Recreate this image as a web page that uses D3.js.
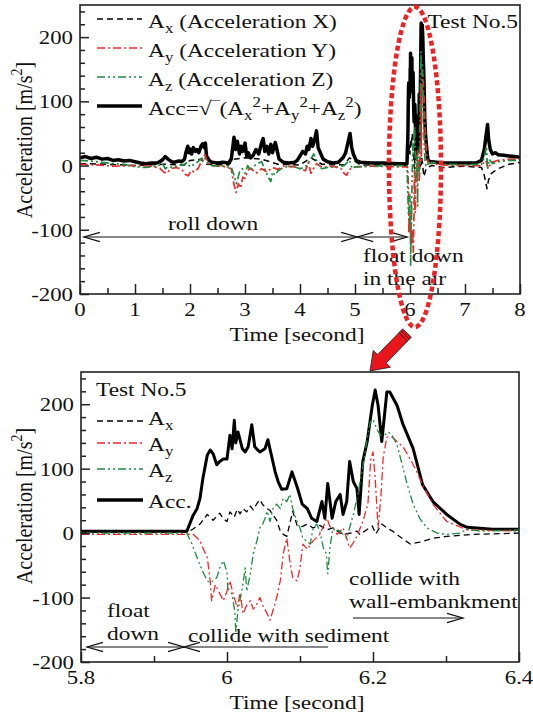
<!DOCTYPE html>
<meta charset="utf-8">
<head>
  <title>Acceleration Test No.5</title>
  <script src="https://d3js.org/d3.v7.min.js"></script>
  <style>
    body { margin: 0; background: #fff; }
    svg { font-family: 'Liberation Serif', 'Times New Roman', serif; fill: #111; }
  </style>
</head>
<body>
<div id="display"></div>
<script>

// ---- data : [time (s), acceleration (m/s2)] ----
// roll down part (0 - 5.8 s)
var accRoll = [[0,12],[0.1,14],[0.2,11],[0.3,13],[0.4,10],[0.5,11],[0.6,8],[0.7,9],[0.8,7],[0.9,8],[1.0,6],[1.1,4],[1.2,3],[1.3,4],[1.4,4],[1.45,6],[1.5,9],[1.55,14],[1.6,10],[1.65,7],[1.7,5],[1.8,7],[1.85,6],[1.9,10],[1.93,22],[1.96,30],[1.98,20],[2.0,26],[2.03,18],[2.06,28],[2.1,22],[2.13,25],[2.16,20],[2.2,30],[2.23,34],[2.26,28],[2.28,35],[2.3,15],[2.35,8],[2.4,5],[2.5,4],[2.6,5],[2.7,4],[2.75,10],[2.78,30],[2.8,44],[2.83,25],[2.86,38],[2.9,18],[2.93,30],[2.96,22],[3.0,35],[3.03,15],[3.06,20],[3.1,12],[3.15,16],[3.2,25],[3.25,18],[3.3,35],[3.33,42],[3.36,22],[3.4,30],[3.43,18],[3.47,33],[3.5,20],[3.55,36],[3.58,25],[3.62,10],[3.7,5],[3.8,4],[3.9,5],[3.95,8],[4.0,15],[4.05,22],[4.1,18],[4.13,30],[4.16,25],[4.2,42],[4.23,30],[4.26,38],[4.3,54],[4.33,28],[4.37,20],[4.42,10],[4.5,6],[4.6,4],[4.7,5],[4.78,12],[4.83,20],[4.87,35],[4.91,50],[4.94,28],[4.97,18],[5.02,8],[5.1,5],[5.3,4],[5.5,4],[5.8,3]];
var axRoll = [[0,3],[0.5,2],[1.0,0],[1.5,2],[1.9,1],[2.0,8],[2.2,10],[2.3,2],[2.7,1],[2.8,10],[3.0,12],[3.3,10],[3.6,2],[4.0,1],[4.2,12],[4.4,2],[4.8,1],[4.9,12],[5.1,1],[5.8,1]];
var ayRoll = [[0,2],[0.3,1],[0.6,-1],[1.0,0],[1.3,-1],[1.45,-4],[1.52,-10],[1.58,-12],[1.65,-5],[1.75,-3],[1.85,-6],[1.92,-14],[1.97,-16],[2.02,-8],[2.08,-10],[2.15,-4],[2.22,8],[2.27,17],[2.32,4],[2.4,0],[2.6,-1],[2.75,-5],[2.8,-30],[2.84,-42],[2.88,-28],[2.92,-35],[2.96,-18],[3.0,-20],[3.05,-8],[3.1,-4],[3.2,-12],[3.3,-5],[3.4,-10],[3.5,-3],[3.6,-6],[3.7,-1],[3.9,-2],[4.0,-5],[4.1,-8],[4.15,5],[4.2,-12],[4.25,-4],[4.3,3],[4.4,-3],[4.6,-1],[4.75,-5],[4.8,-12],[4.85,-15],[4.9,-6],[5.0,-2],[5.3,-1],[5.8,-2]];
var azRoll = [[0,8],[0.2,7],[0.4,5],[0.6,3],[0.8,2],[1.0,-2],[1.2,-3],[1.4,-1],[1.5,3],[1.55,-5],[1.6,-2],[1.7,-3],[1.8,0],[1.9,2],[1.95,5],[2.0,-2],[2.1,3],[2.2,10],[2.25,14],[2.3,6],[2.4,0],[2.6,-1],[2.75,-3],[2.8,-15],[2.84,-28],[2.87,-20],[2.9,-10],[2.95,-5],[3.0,-12],[3.05,0],[3.1,-8],[3.2,2],[3.3,6],[3.35,-3],[3.42,-18],[3.47,-25],[3.5,-10],[3.55,-15],[3.6,-8],[3.7,-3],[3.8,-1],[3.9,-2],[4.0,-5],[4.1,-2],[4.2,10],[4.25,18],[4.3,8],[4.35,-2],[4.4,-5],[4.5,-3],[4.7,-2],[4.8,0],[4.9,8],[4.95,-5],[5.0,-2],[5.3,-1],[5.8,0]];

// float down / collision part (5.8 - 6.4 s), shown in the lower chart
var accZoom = [[5.80,3],[5.945,3],[5.953,26],[5.959,38],[5.963,54],[5.967,85],[5.973,121],[5.977,129],[5.981,123],[5.986,106],[5.990,111],[5.995,115],[6.000,115],[6.004,152],[6.007,131],[6.010,175],[6.012,140],[6.015,157],[6.021,131],[6.025,126],[6.029,134],[6.034,168],[6.038,134],[6.042,129],[6.045,126],[6.052,131],[6.056,145],[6.061,120],[6.066,95],[6.070,80],[6.075,68],[6.082,69],[6.089,95],[6.096,72],[6.103,45],[6.110,38],[6.116,23],[6.123,18],[6.130,49],[6.134,23],[6.138,77],[6.144,23],[6.149,49],[6.155,60],[6.159,29],[6.164,49],[6.168,111],[6.173,80],[6.178,69],[6.181,29],[6.186,111],[6.192,142],[6.199,198],[6.203,222],[6.207,198],[6.212,142],[6.219,219],[6.223,219],[6.233,198],[6.241,169],[6.255,131],[6.268,75],[6.282,49],[6.301,29],[6.319,14],[6.329,9],[6.364,6],[6.4,6]];
var axZoom = [[5.80,1],[5.945,1],[5.953,6],[5.963,14],[5.973,29],[5.981,20],[5.990,31],[5.995,22],[6.000,18],[6.004,33],[6.010,25],[6.014,37],[6.018,30],[6.022,38],[6.027,33],[6.032,42],[6.036,36],[6.041,46],[6.045,52],[6.049,44],[6.055,38],[6.059,35],[6.068,20],[6.073,3],[6.077,-2],[6.082,-5],[6.090,34],[6.096,12],[6.103,10],[6.110,14],[6.118,8],[6.127,12],[6.137,5],[6.145,8],[6.155,0],[6.164,-1],[6.173,1],[6.178,3],[6.182,-2],[6.199,11],[6.204,-1],[6.212,14],[6.219,8],[6.227,3],[6.236,-5],[6.251,-17],[6.264,-14],[6.282,-8],[6.301,-5],[6.337,-2],[6.4,0]];
var ayZoom = [[5.80,-2],[5.945,-2],[5.953,-1],[5.963,-12],[5.967,-23],[5.973,-38],[5.977,-74],[5.979,-105],[5.984,-80],[5.988,-89],[5.995,-105],[6.000,-90],[6.004,-74],[6.008,-93],[6.014,-115],[6.018,-93],[6.022,-125],[6.027,-112],[6.032,-105],[6.036,-118],[6.041,-110],[6.045,-100],[6.049,-112],[6.055,-125],[6.059,-135],[6.063,-120],[6.068,-100],[6.073,-74],[6.077,-32],[6.082,-8],[6.086,-43],[6.090,-69],[6.096,-74],[6.100,-54],[6.104,-17],[6.110,-25],[6.118,-12],[6.127,-2],[6.137,23],[6.141,10],[6.145,8],[6.151,-2],[6.159,8],[6.164,-8],[6.168,-23],[6.173,-15],[6.178,-5],[6.186,18],[6.193,45],[6.197,115],[6.200,126],[6.203,85],[6.207,8],[6.211,60],[6.214,118],[6.219,149],[6.226,149],[6.241,134],[6.251,115],[6.260,95],[6.268,75],[6.282,45],[6.301,18],[6.329,5],[6.4,3]];
var azZoom = [[5.80,0],[5.945,0],[5.952,-17],[5.959,-38],[5.966,-58],[5.973,-74],[5.977,-77],[5.981,-74],[5.986,-69],[5.990,-54],[5.995,-43],[6.000,-60],[6.001,-85],[6.007,-95],[6.011,-125],[6.012,-155],[6.015,-120],[6.021,-85],[6.025,-54],[6.027,-90],[6.032,-63],[6.036,-32],[6.041,-12],[6.045,8],[6.049,14],[6.052,23],[6.055,34],[6.059,18],[6.063,38],[6.068,45],[6.073,38],[6.077,54],[6.082,49],[6.086,60],[6.090,38],[6.096,18],[6.100,8],[6.104,-8],[6.114,-17],[6.118,8],[6.123,14],[6.127,3],[6.132,-23],[6.136,-32],[6.138,-63],[6.141,-23],[6.145,8],[6.155,3],[6.164,-8],[6.173,29],[6.178,54],[6.185,95],[6.192,146],[6.196,172],[6.200,177],[6.205,162],[6.210,152],[6.216,152],[6.221,157],[6.226,152],[6.233,137],[6.240,106],[6.247,75],[6.255,45],[6.264,23],[6.274,8],[6.288,0],[6.301,-2],[6.319,0],[6.329,6],[6.347,3],[6.4,5]];

// after the collision (6.4 - 8 s)
var accTail = [[6.4,6],[6.6,4],[6.8,4],[7.0,4],[7.2,4],[7.3,8],[7.35,25],[7.38,45],[7.41,64],[7.43,40],[7.46,25],[7.5,18],[7.55,20],[7.6,17],[7.7,16],[7.8,15],[7.9,14],[8.0,13]];
var axTail = [[6.4,0],[6.6,-3],[6.8,-2],[7.0,-1],[7.3,-3],[7.35,-15],[7.4,-36],[7.43,-22],[7.48,-12],[7.6,-5],[7.8,2],[8.0,5]];
var ayTail = [[6.4,3],[6.6,1],[7.0,0],[7.3,0],[7.38,8],[7.42,-5],[7.48,5],[7.6,8],[7.8,10],[8.0,10]];
var azTail = [[6.4,5],[6.6,2],[7.0,1],[7.3,2],[7.36,15],[7.39,30],[7.41,-5],[7.44,10],[7.5,3],[7.6,6],[7.8,8],[8.0,8]];

var topTicksX = [0, 1, 2, 3, 4, 5, 6, 7, 8];
var topMinorX = [0.5, 1.5, 2.5, 3.5, 4.5, 5.5, 6.5, 7.5];
var zoomTicksX = [5.8, 6, 6.2, 6.4];
var zoomMinorX = [5.9, 6.1, 6.3];
var ticksY = [-200, -100, 0, 100, 200];
var minorY = d3.range(-180, 250, 20).filter(function(v) { return v % 100 !== 0; });

var RED = "#f0282a", GREEN = "#1e8c3e";
var SX = 1.2;   // the text in the picture is wide

var svg = d3.select("#display")
  .append("svg")
    .attr("width", 533)
    .attr("height", 713)
    .attr("font-family", "'Liberation Serif', 'Times New Roman', serif");

// text helper, parts = [[string, "sub"|"sup"|undefined], ...]
function say(g, x, y, parts, o) {
  o = o || {};
  if (typeof parts === "string") parts = [[parts]];
  var t = g.append("text")
    .attr("transform", "translate(" + x + "," + y + ") scale(" + SX + ",1)" + (o.rot ? " rotate(" + o.rot + ")" : ""))
    .attr("text-anchor", o.anchor || "start")
    .style("font-size", (o.size || 19.5) + "px");
  var shift = 0;
  parts.forEach(function(p) {
    var target = p[1] === "sub" ? 5 : p[1] === "sup" ? -8 : 0;
    var s = t.append("tspan").attr("dy", target - shift).text(p[0]);
    if (p[1]) s.style("font-size", "14px");
    shift = target;
  });
  return t;
}

function arrow(g, x1, x2, y, heads) {
  g.append("line").attr("x1", x1).attr("x2", x2).attr("y1", y).attr("y2", y)
    .attr("stroke", "#111").attr("stroke-width", 1.2);
  var L = 16, h = 4.7;
  if (heads === "both" || heads === "start")
    g.append("path").attr("d", "M" + (x1 + L) + "," + (y - h) + "L" + x1 + "," + y + "L" + (x1 + L) + "," + (y + h))
      .attr("fill", "none").attr("stroke", "#111").attr("stroke-width", 1.2);
  if (heads === "both" || heads === "end")
    g.append("path").attr("d", "M" + (x2 - L) + "," + (y - h) + "L" + x2 + "," + y + "L" + (x2 - L) + "," + (y + h))
      .attr("fill", "none").attr("stroke", "#111").attr("stroke-width", 1.2);
}

function panel(cfg) {
  var g = svg.append("g");
  var x = d3.scaleLinear().domain(cfg.xDomain).range([cfg.left, cfg.right]);
  var y = d3.scaleLinear().domain([-200, 250]).range([cfg.bottom, cfg.top]);

  svg.append("clipPath").attr("id", "clip-" + cfg.name)
    .append("rect")
      .attr("x", cfg.left).attr("y", cfg.top)
      .attr("width", cfg.right - cfg.left).attr("height", cfg.bottom - cfg.top);

  var line = d3.line()
    .x(function(d) { return x(d[0]); })
    .y(function(d) { return y(d[1]); });

  cfg.series.forEach(function(s) {
    g.append("path")
      .datum(s.data)
      .attr("clip-path", "url(#clip-" + cfg.name + ")")
      .attr("fill", "none")
      .attr("stroke", s.color)
      .attr("stroke-width", s.width)
      .attr("stroke-dasharray", s.dash)
      .attr("stroke-linejoin", "round")
      .attr("d", line);
  });

  // inward ticks
  function ticks(axis, vals, size, tr) {
    var a = g.append("g").attr("transform", tr)
      .call(axis.tickValues(vals).tickSizeInner(-size).tickSizeOuter(0).tickFormat(""));
    a.select(".domain").remove();
    a.selectAll("line").attr("stroke", "#222").attr("stroke-width", 1.5);
  }
  ticks(d3.axisBottom(x), cfg.ticksX, 10, "translate(0," + cfg.bottom + ")");
  ticks(d3.axisBottom(x), cfg.minorX, 6, "translate(0," + cfg.bottom + ")");
  ticks(d3.axisLeft(y), ticksY, 9, "translate(" + cfg.left + ",0)");
  ticks(d3.axisLeft(y), minorY, 5, "translate(" + cfg.left + ",0)");

  g.append("rect")
    .attr("x", cfg.left).attr("y", cfg.top)
    .attr("width", cfg.right - cfg.left).attr("height", cfg.bottom - cfg.top)
    .attr("fill", "none").attr("stroke", "#222").attr("stroke-width", 1.6);

  ticksY.forEach(function(v) { say(g, cfg.left - 7, y(v) + 7, String(v), {anchor: "end", size: 19}); });
  cfg.ticksX.forEach(function(v) { say(g, x(v), cfg.bottom + 22, String(v), {anchor: "middle", size: 19}); });

  say(g, 297, cfg.bottom + 47, "Time [second]", {anchor: "middle"});
  say(g, 32, cfg.labelY, [["Acceleration [m/s"], ["2", "sup"], ["]"]], {anchor: "middle", rot: -90, size: 20});
  return {g: g, x: x, y: y};
}

// ---------------- upper chart ----------------
var top1 = panel({
  name: "top", xDomain: [0, 8], left: 80, right: 520, top: 5, bottom: 294, labelY: 140,
  ticksX: topTicksX, minorX: topMinorX,
  series: [
    {data: accRoll.concat(accZoom, accTail), color: "#000", width: 3.5},
    {data: axRoll.concat(axZoom, axTail), color: "#000", width: 1.5, dash: "6,4"},
    {data: ayRoll.concat(ayZoom, ayTail), color: RED, width: 1.7, dash: "8,3,2,3"},
    {data: azRoll.concat(azZoom, azTail), color: GREEN, width: 1.7, dash: "8,3,2,3,2,3"}
  ]
});

var leg = [
  {y: 19, color: "#000", width: 1.5, dash: "6,4", parts: [["A"], ["x", "sub"], [" (Acceleration X)"]]},
  {y: 48, color: RED, width: 1.5, dash: "8,3,2,3", parts: [["A"], ["y", "sub"], [" (Acceleration Y)"]]},
  {y: 77, color: GREEN, width: 1.5, dash: "8,3,2,3,2,3", parts: [["A"], ["z", "sub"], [" (Acceleration Z)"]]},
  {y: 106, color: "#000", width: 3.5, parts: [["Acc=\u221A\u203E(A"], ["x", "sub"], ["2", "sup"], ["+A"], ["y", "sub"], ["2", "sup"], ["+A"], ["z", "sub"], ["2", "sup"], [")"]]}
];
leg.forEach(function(l) {
  top1.g.append("line").attr("x1", 97).attr("x2", 142).attr("y1", l.y).attr("y2", l.y)
    .attr("stroke", l.color).attr("stroke-width", l.width).attr("stroke-dasharray", l.dash);
  say(top1.g, 148, l.y + 9, l.parts);
});
say(top1.g, 518, 28, "Test No.5", {anchor: "end"});

say(top1.g, 168, 230, "roll down");
arrow(top1.g, top1.x(0.07), top1.x(5.04), 237, "both");
arrow(top1.g, top1.x(5.04), top1.x(5.95), 237, "both");
say(top1.g, 363, 262, "float down");
say(top1.g, 363, 285, "in the air");

// ---------------- lower chart ----------------
var bot = panel({
  name: "bot", xDomain: [5.8, 6.4], left: 81, right: 519, top: 372, bottom: 662, labelY: 506,
  ticksX: zoomTicksX, minorX: zoomMinorX,
  series: [
    {data: accZoom, color: "#000", width: 3},
    {data: axZoom, color: "#000", width: 1.3, dash: "6,4"},
    {data: ayZoom, color: RED, width: 1.3, dash: "8,3,2,3"},
    {data: azZoom, color: GREEN, width: 1.3, dash: "8,3,2,3,2,3"}
  ]
});

var leg2 = [
  {y: 421, color: "#000", width: 1.3, dash: "6,4", parts: [["A"], ["x", "sub"]], base: 425},
  {y: 443, color: RED, width: 1.3, dash: "8,3,2,3", parts: [["A"], ["y", "sub"]], base: 451},
  {y: 469, color: GREEN, width: 1.3, dash: "8,3,2,3,2,3", parts: [["A"], ["z", "sub"]], base: 477},
  {y: 500, color: "#000", width: 3.5, parts: [["Acc."]], base: 508}
];
leg2.forEach(function(l) {
  bot.g.append("line").attr("x1", 97).attr("x2", 143).attr("y1", l.y).attr("y2", l.y)
    .attr("stroke", l.color).attr("stroke-width", l.width).attr("stroke-dasharray", l.dash);
  say(bot.g, 148, l.base, l.parts);
});
say(bot.g, 96, 396, "Test No.5");

say(bot.g, 107, 617, "float");
say(bot.g, 107, 640, "down");
arrow(bot.g, 87, 184, 647, "both");
arrow(bot.g, 184, 328, 647, "start");
say(bot.g, 188, 642, "collide with sediment");
say(bot.g, 349, 585, "collide with");
say(bot.g, 349, 608, "wall-embankment");
arrow(bot.g, 353, 463, 618, "end");

// ---------------- red marks ----------------
svg.append("ellipse")
  .attr("cx", 415).attr("cy", 167).attr("rx", 26).attr("ry", 160)
  .attr("fill", "none").attr("stroke", "#ee2222")
  .attr("stroke-width", 4.5).attr("stroke-dasharray", "5,3");

var tail = [407, 333], tip = [370, 371];
var L = Math.hypot(tip[0] - tail[0], tip[1] - tail[1]);
var ang = Math.atan2(tip[1] - tail[1], tip[0] - tail[0]) * 180 / Math.PI;
var ar = svg.append("g").attr("transform", "translate(" + tail[0] + "," + tail[1] + ") rotate(" + ang + ")");
ar.append("path")
  .attr("d", "M0,-6L" + (L - 17) + ",-6L" + (L - 17) + ",-12L" + L + ",0L" + (L - 17) + ",12L" + (L - 17) + ",6L0,6Z")
  .attr("fill", "#e8161c").attr("stroke", "#222").attr("stroke-width", 0.8);
[2.5, 5.5].forEach(function(d) {
  ar.append("line").attr("x1", d).attr("x2", d).attr("y1", -6).attr("y2", 6)
    .attr("stroke", "#222").attr("stroke-width", 0.8);
});

</script>
</body>
